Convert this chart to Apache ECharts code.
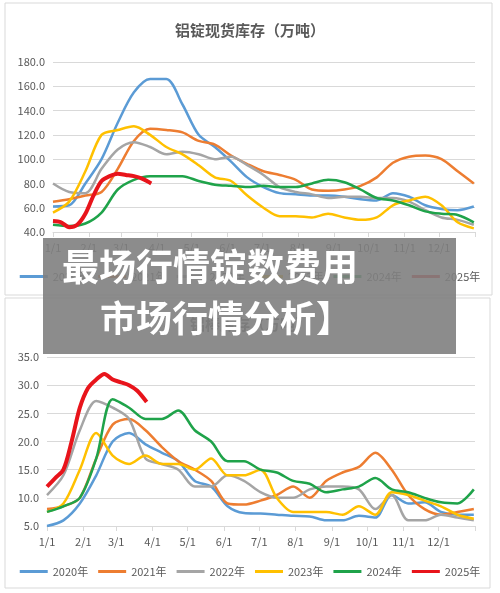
<!DOCTYPE html>
<html><head><meta charset="utf-8">
<script src="https://cdn.jsdelivr.net/npm/echarts@6/dist/echarts.min.js"></script>
<style>html,body{margin:0;padding:0;background:#fff}#c{width:500px;height:593px}</style>
</head><body><div id="c"></div>
<script>
const YEARS = ['2020年','2021年','2022年','2023年','2024年','2025年'];
const COLORS = ['#5b9bd5','#ed7d31','#a5a5a5','#ffc000','#1fa34a','#e8141b'];
const DAYS = [0,14,28,42,56,70,84,98,112,126,140,154,168,182,196,210,224,238,252,266,280,294,308,322,336,350,364];
const DAYS_2025 = [0,7,14,21,28,35,42,49,56,63,70,77,85];
const MONTH_DAYS = [0,31,59,90,120,151,181,212,243,273,304,334];
const MONTH_LABELS = ['1/1','2/1','3/1','4/1','5/1','6/1','7/1','8/1','9/1','10/1','11/1','12/1'];
// top: 铝锭现货库存
const ingot2020 = [61,62,80,100,130,155,166,166,145,120,110,98,85,77,72,71,70,70,69,67,66,72,69,62,59,58,61];
const ingot2021 = [65,67,70,73,92,115,125,124,122,115,112,103,96,90,87,83,75,74,75,78,85,97,102,103,100,90,80];
const ingot2022 = [80,73,72,92,108,114,110,104,106,104,100,102,95,87,77,73,71,68,69,69,68,68,65,58,52,50,46];
const ingot2023 = [56,65,90,120,124,127,120,110,104,95,85,82,70,60,53,53,52,55,52,50,52,62,66,69,62,48,43];
const ingot2024 = [46,45,47,56,75,83,86,86,86,82,79,78,77,78,77,77,80,83,81,75,68,66,62,57,55,54,48];
const ingot2025 = [49,48,44,46,55,70,82,86,88,87,86,84,80];
// bottom: 铝棒库存
const rod2020 = [5,6,9,14,20,21.5,19.5,18,16.5,13,12,8.5,7.3,7.2,7,6.8,6.7,6,6,6.8,6.5,10.5,9,9.2,7.5,7,7];
const rod2021 = [8,8.5,10,17,23,24,22,19,16.5,15,13,9,8.8,9.5,10.5,12,10,13,14.5,15.5,18,15,10.5,8,7,7.5,8];
const rod2022 = [10.5,14,22,27.2,26,24,17,16,15,12,12,14,13,11,10,10,11.5,12,12,11.5,8,10.5,6,6,7,6.5,6];
const rod2023 = [7.5,9,15,21.5,17.5,16,17.5,16,16,15,17,14,14,15,10,7.5,7.5,7.5,7,8.5,7,11,10.5,9.5,8.5,7,6.3];
const rod2024 = [7.5,8.5,10,17,27.5,26,24,24,25.5,22,20,16.5,16.5,15,14.5,13,12.5,11,11.5,12,13.5,11.5,11,10,9.2,9,11.5];
const rod2025 = [12,13.5,15,20,26,29.5,31,32,31,30.5,30,29,27];

const zip = (d, v) => v.map((y, i) => [d[i], y]);
const topSets = [ingot2020, ingot2021, ingot2022, ingot2023, ingot2024, ingot2025];
const botSets = [rod2020, rod2021, rod2022, rod2023, rod2024, rod2025];
const txt = '#595959';
const font = 'Noto Sans CJK SC';
function xAx(gi){return {type:'value',gridIndex:gi,min:0,max:365,
  axisLine:{show:true,lineStyle:{color:'#d9d9d9'}},
  axisTick:{show:true,customValues:MONTH_DAYS.concat([365]),lineStyle:{color:'#d9d9d9'}},
  splitLine:{show:false},
  axisLabel:{customValues:MONTH_DAYS,color:txt,fontSize:11,fontFamily:font,margin:10,
    formatter:v=>MONTH_LABELS[MONTH_DAYS.indexOf(v)]}};}
function yAx(gi,min,max,int){return {type:'value',gridIndex:gi,min,max,interval:int,
  axisLine:{show:false},axisTick:{show:false},
  splitLine:{lineStyle:{color:'#d9d9d9'}},
  axisLabel:{color:txt,fontSize:11,fontFamily:font,formatter:v=>v.toFixed(1)}};}
const series = [];
[topSets, botSets].forEach((sets, gi) => sets.forEach((v, i) => series.push({
  name: YEARS[i], type:'line', xAxisIndex:gi, yAxisIndex:gi, showSymbol:false, smooth:0.3,
  data: zip(i===5?DAYS_2025:DAYS, v), color: COLORS[i],
  lineStyle:{width:i===5?4:2.5}, z:i===5?5:2
})));
const chart = echarts.init(document.getElementById('c'));
chart.setOption({
  animation:false,
  title:[{text:'铝锭现货库存（万吨）',left:'center',top:18,textStyle:{color:txt,fontSize:15,fontWeight:'bold',fontFamily:font}},
         {text:'铝棒库存（万吨）',left:'center',top:312,textStyle:{color:txt,fontSize:15,fontWeight:'bold',fontFamily:font}}],
  grid:[{left:53,right:25,top:62,bottom:361},{left:47,right:25,top:357,bottom:67}],
  xAxis:[xAx(0),xAx(1)], yAxis:[yAx(0,40,180,20),yAx(1,5,35,5)],
  legend:[{data:YEARS,top:266,left:'center',itemWidth:28,itemHeight:3,itemGap:10,icon:'rect',
           textStyle:{color:txt,fontSize:11,fontFamily:font}},
          {data:YEARS,top:561,left:'center',itemWidth:28,itemHeight:3,itemGap:10,icon:'rect',
           textStyle:{color:txt,fontSize:11,fontFamily:font}}],
  series,
  graphic:[
    {type:'rect',shape:{x:5,y:3,width:487,height:292},style:{fill:'none',stroke:'#d9d9d9',lineWidth:1},z:-1},
    {type:'rect',shape:{x:5,y:298,width:485,height:290},style:{fill:'none',stroke:'#d9d9d9',lineWidth:1},z:-1},
    {type:'rect',shape:{x:43,y:238,width:413,height:116},style:{fill:'rgba(128,128,128,0.9)'},z:100},
    {type:'text',x:62,y:248,style:{text:'最场行情锭数费用',fill:'#fff',font:'bold 37px "Noto Sans CJK SC"'},z:101},
    {type:'text',x:100,y:300,style:{text:'市场行情分析】',fill:'#fff',font:'bold 36px "Noto Sans CJK SC"'},z:101}
  ]
});
</script></body></html>
